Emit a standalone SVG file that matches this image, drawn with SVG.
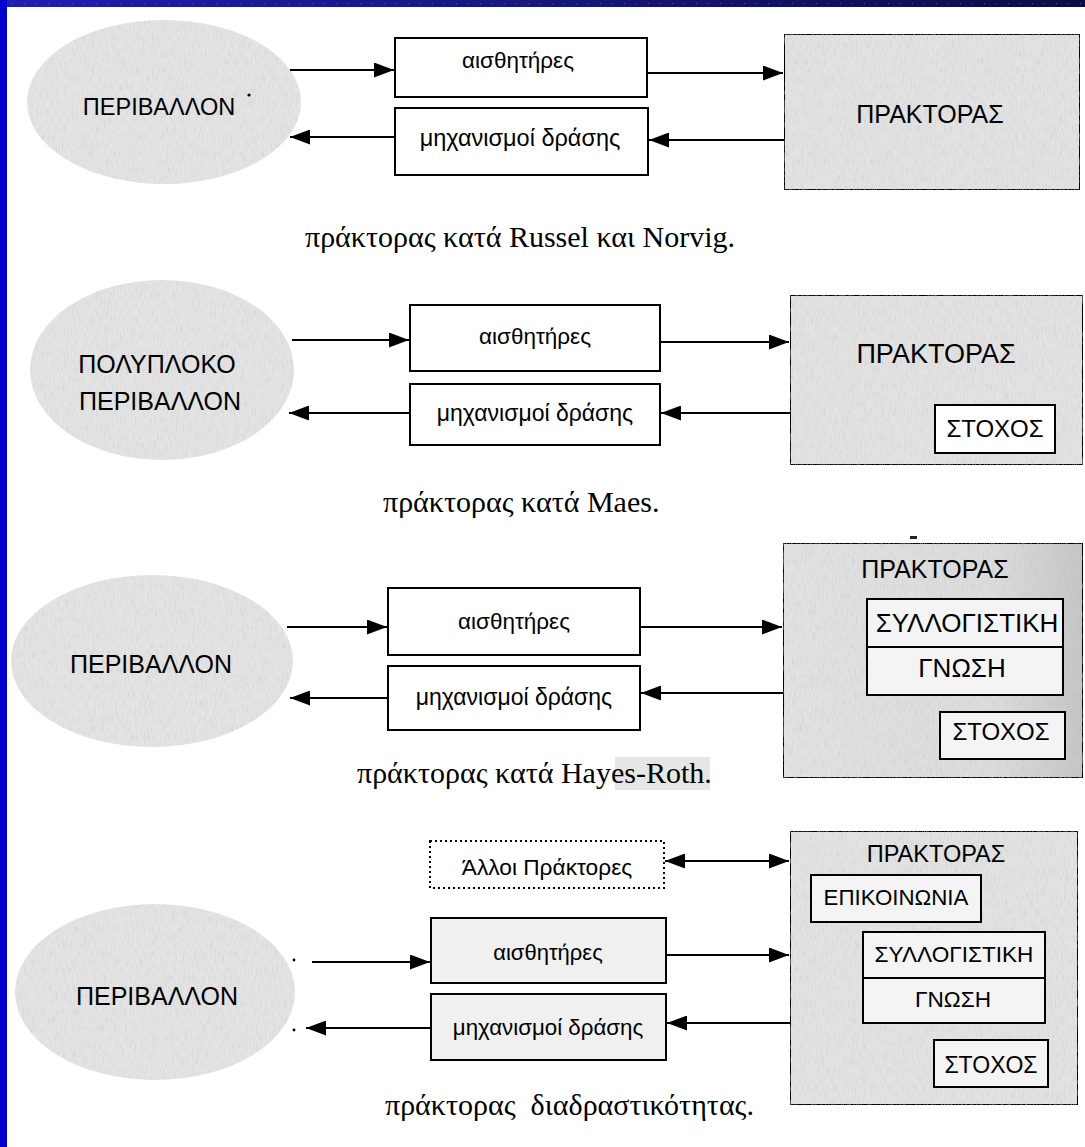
<svg xmlns="http://www.w3.org/2000/svg" width="1085" height="1147" viewBox="0 0 1085 1147">
  <defs>
    <marker id="arrow" viewBox="0 0 20 15" refX="20" refY="7.5" markerWidth="20" markerHeight="15" markerUnits="userSpaceOnUse" orient="auto-start-reverse">
      <path d="M0,0 L20,7.5 L0,15 Z" fill="#000"/>
    </marker>
    <linearGradient id="topBar" x1="0" y1="0" x2="1" y2="0">
      <stop offset="0" stop-color="#1f1fb0"/>
      <stop offset="0.5" stop-color="#16167a"/>
      <stop offset="1" stop-color="#0c0c45"/>
    </linearGradient>
    <linearGradient id="agentShade" x1="0" y1="0" x2="1" y2="0">
      <stop offset="0" stop-color="#e2e2e2"/>
      <stop offset="0.7" stop-color="#dcdcdc"/>
      <stop offset="1" stop-color="#c6c6c6"/>
    </linearGradient>
    <!-- light scanned-paper grain for the shaded shapes -->
    <filter id="grain" x="0" y="0" width="1" height="1">
      <feTurbulence type="fractalNoise" baseFrequency="0.9 0.12" numOctaves="2" seed="3" result="n"/>
      <feColorMatrix in="n" type="matrix" values="0 0 0 0 0.45  0 0 0 0 0.45  0 0 0 0 0.45  0 0 0 -0.8 0.42" result="speck"/>
      <feComposite in="speck" in2="SourceGraphic" operator="in" result="sp"/>
      <feMerge><feMergeNode in="SourceGraphic"/><feMergeNode in="sp"/></feMerge>
    </filter>
  </defs>
  <style>
    .env { fill: #e3e3e3; stroke: none; }
    .agent { fill: #e2e2e2; stroke: #000; stroke-width: 2; }
    .box { fill: #fff; stroke: #000; stroke-width: 2; }
    .boxg { fill: #f0f0f0; stroke: #000; stroke-width: 2; }
    .inner { fill: #f4f4f4; stroke: #000; stroke-width: 2; }
    .dotted { fill: #fff; stroke: #000; stroke-width: 2; stroke-dasharray: 2 3; }
    .lbl { font-family: "Liberation Sans", Arial, sans-serif; fill: #000; text-anchor: middle; }
    .cap { font-family: "Liberation Serif", "Times New Roman", serif; fill: #000; font-size: 30px; }
    .conn line { stroke: #000; stroke-width: 2; fill: none; }
  </style>

  <!-- page frame -->
  <rect x="0" y="0" width="1085" height="1147" fill="#fff"/>
  <rect x="0" y="0" width="1085" height="7" fill="url(#topBar)"/>
  <line x1="0" y1="3.5" x2="1085" y2="3.5" stroke="#5a6ad0" stroke-width="1" stroke-dasharray="1 11" opacity="0.8"/>
  <rect x="0" y="0" width="7" height="1147" fill="#0000cc"/>

  <!-- ===== Russel & Norvig ===== -->
  <g id="env1">
    <ellipse class="env" cx="164" cy="102" rx="137" ry="82" filter="url(#grain)"/>
    <text class="lbl" x="159" y="115" font-size="23.5">ΠΕΡΙΒΑΛΛΟΝ</text>
    <circle cx="249" cy="95" r="1.6" fill="#000"/>
  </g>
  <g id="sens1">
    <rect class="box" x="395" y="38" width="252" height="59"/>
    <text class="lbl" x="518" y="68" font-size="22.5">αισθητήρες</text>
  </g>
  <g id="act1">
    <rect class="box" x="395" y="108" width="253" height="67"/>
    <text class="lbl" x="520" y="146" font-size="23.5">μηχανισμοί δράσης</text>
  </g>
  <g id="agent1">
    <rect class="agent" x="784" y="34" width="296" height="156" filter="url(#grain)"/>
    <text class="lbl" x="930" y="123" font-size="25">ΠΡΑΚΤΟΡΑΣ</text>
  </g>
  <text class="cap" x="305" y="247">πράκτορας κατά Russel και Norvig.</text>

  <!-- ===== Maes ===== -->
  <g id="env2">
    <ellipse class="env" cx="162" cy="370" rx="132" ry="90" filter="url(#grain)"/>
    <text class="lbl" x="157" y="373" font-size="25">ΠΟΛΥΠΛΟΚΟ</text>
    <text class="lbl" x="160" y="410" font-size="25">ΠΕΡΙΒΑΛΛΟΝ</text>
  </g>
  <g id="sens2">
    <rect class="box" x="410" y="305" width="250" height="66"/>
    <text class="lbl" x="535" y="344" font-size="22.5">αισθητήρες</text>
  </g>
  <g id="act2">
    <rect class="box" x="410" y="384" width="250" height="61"/>
    <text class="lbl" x="535" y="421" font-size="23">μηχανισμοί δράσης</text>
  </g>
  <g id="agent2">
    <rect class="agent" x="790" y="295" width="293" height="170" filter="url(#grain)"/>
    <text class="lbl" x="936" y="363" font-size="27">ΠΡΑΚΤΟΡΑΣ</text>
    <rect class="box" x="935" y="405" width="120" height="48"/>
    <text class="lbl" x="995" y="437" font-size="24">ΣΤΟΧΟΣ</text>
  </g>
  <text class="cap" x="383" y="512">πράκτορας κατά Maes.</text>

  <!-- ===== Hayes-Roth ===== -->
  <g id="env3">
    <ellipse class="env" cx="152" cy="661" rx="141" ry="86" filter="url(#grain)"/>
    <text class="lbl" x="151" y="673" font-size="25">ΠΕΡΙΒΑΛΛΟΝ</text>
  </g>
  <g id="sens3">
    <rect class="box" x="388" y="588" width="252" height="67"/>
    <text class="lbl" x="514" y="629" font-size="22.5">αισθητήρες</text>
  </g>
  <g id="act3">
    <rect class="box" x="388" y="666" width="252" height="64"/>
    <text class="lbl" x="514" y="705" font-size="23">μηχανισμοί δράσης</text>
  </g>
  <g id="agent3">
    <rect x="783" y="543" width="300" height="235" fill="url(#agentShade)" stroke="#000" stroke-width="2" filter="url(#grain)"/>
    <rect x="910" y="536" width="7" height="3" fill="#222"/>
    <text class="lbl" x="935" y="578" font-size="25">ΠΡΑΚΤΟΡΑΣ</text>
    <rect class="inner" x="867" y="599" width="196" height="96"/>
    <line x1="867" y1="647" x2="1063" y2="647" stroke="#000" stroke-width="2"/>
    <text class="lbl" x="967" y="632" font-size="26">ΣΥΛΛΟΓΙΣΤΙΚΗ</text>
    <text class="lbl" x="962" y="677" font-size="26">ΓΝΩΣΗ</text>
    <rect class="inner" x="940" y="712" width="125" height="47"/>
    <text class="lbl" x="1001" y="740" font-size="24">ΣΤΟΧΟΣ</text>
  </g>
  <rect x="615" y="757" width="95" height="33" fill="#e6e6e6"/>
  <text class="cap" x="357" y="783">πράκτορας κατά Hayes-Roth.</text>

  <!-- ===== interactive agent ===== -->
  <g id="others4">
    <rect class="dotted" x="430" y="841" width="234" height="47"/>
    <text class="lbl" x="547" y="875" font-size="22.7">Άλλοι Πράκτορες</text>
  </g>
  <g id="env4">
    <ellipse class="env" cx="155" cy="992" rx="140" ry="88" filter="url(#grain)"/>
    <text class="lbl" x="157" y="1005" font-size="25">ΠΕΡΙΒΑΛΛΟΝ</text>
    <circle cx="294" cy="960" r="1.4" fill="#000"/>
    <circle cx="294" cy="1030" r="1.4" fill="#000"/>
  </g>
  <g id="sens4">
    <rect class="boxg" x="431" y="918" width="235" height="65"/>
    <text class="lbl" x="548" y="960" font-size="22">αισθητήρες</text>
  </g>
  <g id="act4">
    <rect class="boxg" x="431" y="994" width="235" height="66"/>
    <text class="lbl" x="548" y="1035" font-size="22.3">μηχανισμοί δράσης</text>
  </g>
  <g id="agent4">
    <rect class="agent" x="790" y="831" width="288" height="274" filter="url(#grain)"/>
    <text class="lbl" x="936" y="862" font-size="23.5">ΠΡΑΚΤΟΡΑΣ</text>
    <rect class="inner" x="811" y="875" width="170" height="47"/>
    <text class="lbl" x="896" y="905" font-size="22.3">ΕΠΙΚΟΙΝΩΝΙΑ</text>
    <rect class="inner" x="863" y="932" width="182" height="91"/>
    <line x1="863" y1="978" x2="1045" y2="978" stroke="#000" stroke-width="2"/>
    <text class="lbl" x="954" y="962" font-size="22.6">ΣΥΛΛΟΓΙΣΤΙΚΗ</text>
    <text class="lbl" x="953" y="1007" font-size="22.6">ΓΝΩΣΗ</text>
    <rect class="inner" x="934" y="1040" width="114" height="47"/>
    <text class="lbl" x="991" y="1073" font-size="23">ΣΤΟΧΟΣ</text>
  </g>
  <text class="cap" x="385" y="1115" xml:space="preserve">πράκτορας  διαδραστικότητας.</text>

  <!-- connectors -->
  <g id="connectors" class="conn">
    <line x1="290" y1="70" x2="394" y2="70" marker-end="url(#arrow)"/>
    <line x1="394" y1="137" x2="290" y2="137" marker-end="url(#arrow)"/>
    <line x1="648" y1="73" x2="783" y2="73" marker-end="url(#arrow)"/>
    <line x1="784" y1="140" x2="649" y2="140" marker-end="url(#arrow)"/>

    <line x1="292" y1="340" x2="409" y2="340" marker-end="url(#arrow)"/>
    <line x1="409" y1="413" x2="289" y2="413" marker-end="url(#arrow)"/>
    <line x1="661" y1="342" x2="789" y2="342" marker-end="url(#arrow)"/>
    <line x1="790" y1="413" x2="661" y2="413" marker-end="url(#arrow)"/>

    <line x1="287" y1="627" x2="387" y2="627" marker-end="url(#arrow)"/>
    <line x1="387" y1="698" x2="290" y2="698" marker-end="url(#arrow)"/>
    <line x1="641" y1="627" x2="782" y2="627" marker-end="url(#arrow)"/>
    <line x1="783" y1="693" x2="641" y2="693" marker-end="url(#arrow)"/>

    <line x1="665" y1="861" x2="789" y2="861" marker-start="url(#arrow)" marker-end="url(#arrow)"/>
    <line x1="312" y1="962" x2="430" y2="962" marker-end="url(#arrow)"/>
    <line x1="430" y1="1028" x2="306" y2="1028" marker-end="url(#arrow)"/>
    <line x1="667" y1="955" x2="789" y2="955" marker-end="url(#arrow)"/>
    <line x1="790" y1="1023" x2="667" y2="1023" marker-end="url(#arrow)"/>
  </g>
</svg>
